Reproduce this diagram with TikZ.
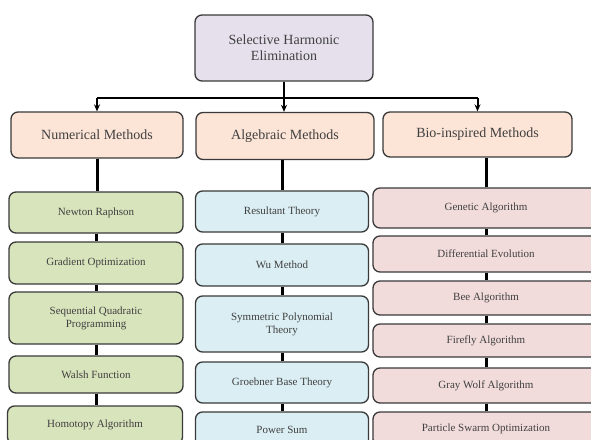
\documentclass[tikz,border=0pt]{standalone}
\usepackage{fontspec}
\setmainfont{Liberation Serif}
\usetikzlibrary{arrows.meta}
\definecolor{cTop}{HTML}{E5E0EC}
\definecolor{cHead}{HTML}{FCE4D6}
\definecolor{cGreen}{HTML}{D8E4BC}
\definecolor{cBlue}{HTML}{DAEEF3}
\definecolor{cPink}{HTML}{F2DCDB}
\definecolor{cEdge}{HTML}{3A3A3A}
\definecolor{cText}{HTML}{404040}
\tikzset{
  box/.style={draw=cEdge, line width=1.3pt, rounded corners=7pt, align=center,
    text=cText, inner sep=0pt},
  topbox/.style={box, fill=cTop, font=\fontsize{14}{16}\selectfont},
  headbox/.style={box, fill=cHead, font=\fontsize{14}{16}\selectfont},
  gbox/.style={box, fill=cGreen, font=\fontsize{11}{13}\selectfont},
  bbox/.style={box, fill=cBlue, font=\fontsize{11}{13}\selectfont},
  pbox/.style={box, fill=cPink, font=\fontsize{11}{13}\selectfont},
  link/.style={line width=3pt, black},
  feed/.style={line width=2pt, black, -{Stealth[length=7pt,width=6pt]}},
}
\newcommand{\bx}[6]{\node[#1, minimum width=#4pt, minimum height=#5pt] (#2) at (#3) {#6};}
\begin{document}
\begin{tikzpicture}[x=1pt,y=-1pt]
\useasboundingbox (0,0) rectangle (591,439);
\clip (0,0) rectangle (591,439);
\fill[white] (0,0) rectangle (591,439);
% top
\bx{topbox}{top}{284,48}{178}{66}{Selective Harmonic\\Elimination}
% headers
\bx{headbox}{num}{97,135}{172}{46}{Numerical Methods}
\bx{headbox}{alg}{285,136}{178}{47}{Algebraic Methods}
\bx{headbox}{bio}{477.5,134.5}{189}{45}{Bio-inspired Methods}
% column 1
\bx{gbox}{n1}{96,212.5}{174}{41}{Newton Raphson}
\bx{gbox}{n2}{96,263}{174}{42}{Gradient Optimization}
\bx{gbox}{n3}{96,318}{174}{52}{Sequential Quadratic\\Programming}
\bx{gbox}{n4}{96,374.5}{174}{37}{Walsh Function}
\bx{gbox}{n5}{95,425}{175}{38}{Homotopy Algorithm}
% column 2
\bx{bbox}{a1}{282,211.5}{173}{41}{Resultant Theory}
\bx{bbox}{a2}{282,265}{173}{42}{Wu Method}
\bx{bbox}{a3}{282,324}{173}{56}{Symmetric Polynomial\\Theory}
\bx{bbox}{a4}{282,382.5}{173}{41}{Groebner Base Theory}
\bx{bbox}{a5}{282,430}{173}{36}{Power Sum}
% column 3
\bx{pbox}{b1}{486,208}{226}{40}{Genetic Algorithm}
\bx{pbox}{b2}{486,254}{226}{36}{Differential Evolution}
\bx{pbox}{b3}{486,298}{226}{34}{Bee Algorithm}
\bx{pbox}{b4}{486,340.5}{226}{33}{Firefly Algorithm}
\bx{pbox}{b5}{486,385.5}{226}{35}{Gray Wolf Algorithm}
\bx{pbox}{b6}{486,429}{226}{34}{Particle Swarm Optimization}
% top connectors
\coordinate (j) at (top.south |- 0,98);
\draw[line width=2pt] (num.north |- j) -- (bio.north |- j);
\draw[feed] (top.south) -- (top.south |- alg.north);
\draw[feed] (num.north |- j) -- (num.north);
\draw[feed] (bio.north |- j) -- (bio.north);
% column links
\draw[link] (num.south) -- (num.south |- n1.north);
\draw[link] (n1) -- (n2); \draw[link] (n2.south) -- (n3.north);
\draw[link] (n3.south) -- (n3.south |- n4.north); \draw[link] (n4.south) -- (n4.south |- n5.north);
\draw[link] (a1.north |- alg.south) -- (a1.north);
\draw[link] (a1.south) -- (a2.north); \draw[link] (a2.south) -- (a3.north);
\draw[link] (a3.south) -- (a4.north); \draw[link] (a4.south) -- (a5.north);
\draw[link] (b1.north |- bio.south) -- (b1.north);
\draw[link] (b1.south) -- (b2.north); \draw[link] (b2.south) -- (b3.north);
\draw[link] (b3.south) -- (b4.north); \draw[link] (b4.south) -- (b5.north);
\draw[link] (b5.south) -- (b6.north);
\end{tikzpicture}
\end{document}
